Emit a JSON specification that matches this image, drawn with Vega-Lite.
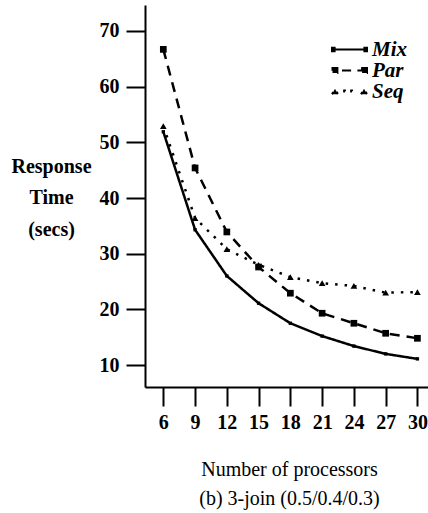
{
  "$schema": "https://vega.github.io/schema/vega-lite/v6.json",
  "autosize": "none",
  "width": 283,
  "height": 382,
  "padding": {"left": 145, "top": 5, "right": 0, "bottom": 126},
  "background": "white",
  "config": {
    "view": {"stroke": null},
    "font": "Liberation Serif",
    "axis": {"domainColor": "black", "tickColor": "black", "labelColor": "black", "titleColor": "black", "grid": false, "domainWidth": 2, "tickWidth": 2}
  },
  "data": {
    "values": [
      {"p": 6, "s": "Mix", "t": 51.9}, {"p": 9, "s": "Mix", "t": 34.3}, {"p": 12, "s": "Mix", "t": 26.0},
      {"p": 15, "s": "Mix", "t": 21.1}, {"p": 18, "s": "Mix", "t": 17.5}, {"p": 21, "s": "Mix", "t": 15.2},
      {"p": 24, "s": "Mix", "t": 13.4}, {"p": 27, "s": "Mix", "t": 12.0}, {"p": 30, "s": "Mix", "t": 11.1},
      {"p": 6, "s": "Par", "t": 66.7}, {"p": 9, "s": "Par", "t": 45.4}, {"p": 12, "s": "Par", "t": 33.9},
      {"p": 15, "s": "Par", "t": 27.6}, {"p": 18, "s": "Par", "t": 22.9}, {"p": 21, "s": "Par", "t": 19.3},
      {"p": 24, "s": "Par", "t": 17.5}, {"p": 27, "s": "Par", "t": 15.7}, {"p": 30, "s": "Par", "t": 14.8},
      {"p": 6, "s": "Seq", "t": 52.9}, {"p": 9, "s": "Seq", "t": 36.4}, {"p": 12, "s": "Seq", "t": 30.8},
      {"p": 15, "s": "Seq", "t": 28.0}, {"p": 18, "s": "Seq", "t": 25.8}, {"p": 21, "s": "Seq", "t": 24.7},
      {"p": 24, "s": "Seq", "t": 24.2}, {"p": 27, "s": "Seq", "t": 23.0}, {"p": 30, "s": "Seq", "t": 23.1}
    ]
  },
  "encoding": {
    "x": {
      "field": "p", "type": "quantitative",
      "scale": {"domain": [4.27, 31], "nice": false, "zero": false},
      "axis": {
        "values": [6, 9, 12, 15, 18, 21, 24, 27, 30],
        "tickSize": 19, "labelPadding": 6, "labelFontSize": 20, "labelFontWeight": "bold",
        "title": ["Number of processors", "(b) 3-join (0.5/0.4/0.3)"],
        "titleFontWeight": "normal", "titleFontSize": 20, "titleLineHeight": 29,
        "titleX": 144, "titleY": 88, "titleAlign": "center", "titleBaseline": "alphabetic"
      }
    },
    "y": {
      "field": "t", "type": "quantitative",
      "scale": {"domain": [6.05, 74.67], "nice": false, "zero": false},
      "axis": {
        "values": [10, 20, 30, 40, 50, 60, 70],
        "tickSize": 19, "labelPadding": 7, "labelFontSize": 20, "labelFontWeight": "bold",
        "title": ["Response", "Time", "(secs)"], "titleAngle": 0, "titleX": -94, "titleY": 167,
        "titleAlign": "center", "titleBaseline": "alphabetic", "titleLineHeight": 31.5,
        "titleFontSize": 20, "titleFontWeight": "bold"
      }
    }
  },
  "layer": [
    {
      "mark": {"type": "line", "stroke": "black", "strokeWidth": 2.5},
      "encoding": {
        "strokeDash": {
          "field": "s", "type": "nominal",
          "scale": {"domain": ["Mix", "Par", "Seq"], "range": [[1, 0], [10, 7], [2.5, 7]]},
          "legend": {
            "orient": "none", "legendX": 194, "legendY": 34, "title": null, "padding": 0,
            "symbolType": "stroke",
            "symbolSize": 100, "symbolFillColor": "black", "symbolStrokeColor": "black", "symbolStrokeWidth": 2,
            "labelFontSize": 21, "labelFontStyle": "italic", "labelFontWeight": "bold", "labelColor": "black",
            "labelOffset": 12, "rowPadding": -5,
            "encode": {
              "symbols": {
                "update": {
                  "shape": {"signal": "datum.value === 'Mix' ? 'M-3.5,0L3.33,0M-3.5,-0.35L-2.98,-0.35L-2.98,0.35L-3.5,0.35ZM2.98,-0.35L3.5,-0.35L3.5,0.35L2.98,0.35Z' : datum.value === 'Par' ? 'M-3.4,-0.49L-2.42,-0.49L-2.42,0.49L-3.4,0.49ZM-1.5,0L0.32,0M1.58,0L3.01,0M2.52,-0.49L3.5,-0.49L3.5,0.49L2.52,0.49Z' : 'M-3.5,0.53L-2.9,-0.53L-2.31,0.53ZM-1.26,-0.18L-0.91,-0.18L-0.91,0.18L-1.26,0.18ZM0.14,-0.18L0.49,-0.18L0.49,0.18L0.14,0.18ZM2.31,0.53L2.9,-0.53L3.5,0.53Z'"},
                  "size": {"value": 100},
                  "fill": {"value": "black"},
                  "stroke": {"value": "black"},
                  "strokeWidth": {"value": 2},
                  "strokeDash": {"value": [1, 0]},
                  "opacity": {"value": 1}
                }
              }
            }
          }
        }
      }
    },
    {
      "mark": {"type": "point", "filled": true, "color": "black", "opacity": 1, "size": 45},
      "encoding": {
        "shape": {
          "field": "s", "type": "nominal",
          "scale": {"range": ["M-0.5,-0.5L0.5,-0.5L0.5,0.5L-0.5,0.5Z", "square", "triangle-up"]},
          "legend": null
        }
      }
    }
  ]
}
